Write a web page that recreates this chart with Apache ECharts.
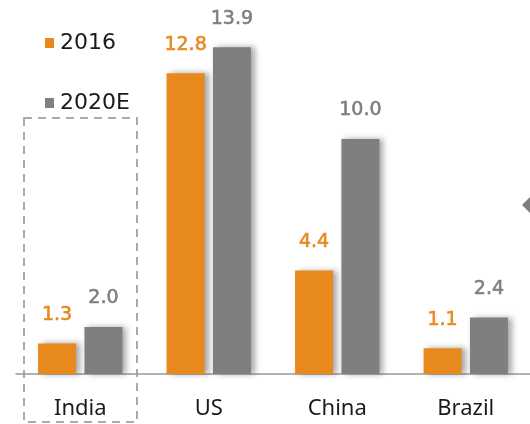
<!DOCTYPE html>
<html>
<head>
<meta charset="utf-8">
<script src="https://cdn.jsdelivr.net/npm/echarts@6/dist/echarts.min.js"></script>
<style>
  html, body { margin: 0; padding: 0; background: #fff; }
  #chart { width: 530px; height: 424px; }
</style>
</head>
<body>
<div id="chart"></div>
<script>
const categories = ['India', 'US', 'China', 'Brazil']
const values2016 = [1.3, 12.8, 4.4, 1.1]
const values2020E = [2.0, 13.9, 10.0, 2.4]

const ORANGE = '#E8891E'
const GRAY = '#7F7F7F'

const chart = echarts.init(document.getElementById('chart'))

const barShadow = {
  shadowColor: 'rgba(0, 0, 0, 0.35)',
  shadowBlur: 6,
  shadowOffsetX: 4,
  shadowOffsetY: 0
}

// value labels: medium weight, faked with a thin stroke of the same colour
const valueLabel = color => ({
  show: true,
  position: 'top',
  distance: 19,
  color: color,
  fontSize: 19,
  fontFamily: 'DejaVu Sans',
  textBorderColor: color,
  textBorderWidth: 0.6,
  formatter: p => p.value.toFixed(1)
})

const option = {
  backgroundColor: '#fff',
  animation: false,
  legend: {
    orient: 'vertical',
    left: 40,
    top: 27,
    itemWidth: 9,
    itemHeight: 10,
    itemGap: 38,
    icon: 'rect',
    data: ['2016', '2020E'],
    textStyle: {
      color: '#1a1a1a',
      fontSize: 22,
      fontFamily: 'DejaVu Sans',
      padding: [0, 0, 0, 1]
    }
  },
  grid: {
    left: 16,
    width: 516,
    top: 45,
    bottom: 50
  },
  xAxis: {
    type: 'category',
    data: categories,
    axisLine: { lineStyle: { color: '#999', width: 1.5 } },
    axisTick: { length: 6, lineStyle: { color: '#999', width: 1.5 } },
    axisLabel: {
      color: '#1a1a1a',
      fontSize: 22,
      fontFamily: 'Noto Sans',
      margin: 24
    }
  },
  yAxis: {
    type: 'value',
    min: 0,
    max: 14,
    show: false
  },
  graphic: [
    {
      type: 'rect',
      shape: { x: 24, y: 118, width: 113, height: 304 },
      style: { fill: 'none', stroke: '#aaa', lineWidth: 2, lineDash: [8, 6] },
      z: 0
    },
    {
      type: 'polygon',
      shape: { points: [[522, 205], [531, 196], [540, 205], [531, 214]] },
      style: { fill: GRAY }
    }
  ],
  series: [
    {
      name: '2016',
      type: 'bar',
      data: values2016,
      barWidth: 38,
      barGap: '22%',
      itemStyle: Object.assign({ color: ORANGE }, barShadow),
      label: valueLabel(ORANGE)
    },
    {
      name: '2020E',
      type: 'bar',
      data: values2020E,
      barWidth: 38,
      itemStyle: Object.assign({ color: GRAY }, barShadow),
      label: valueLabel(GRAY)
    }
  ]
}

chart.setOption(option)
</script>
</body>
</html>
